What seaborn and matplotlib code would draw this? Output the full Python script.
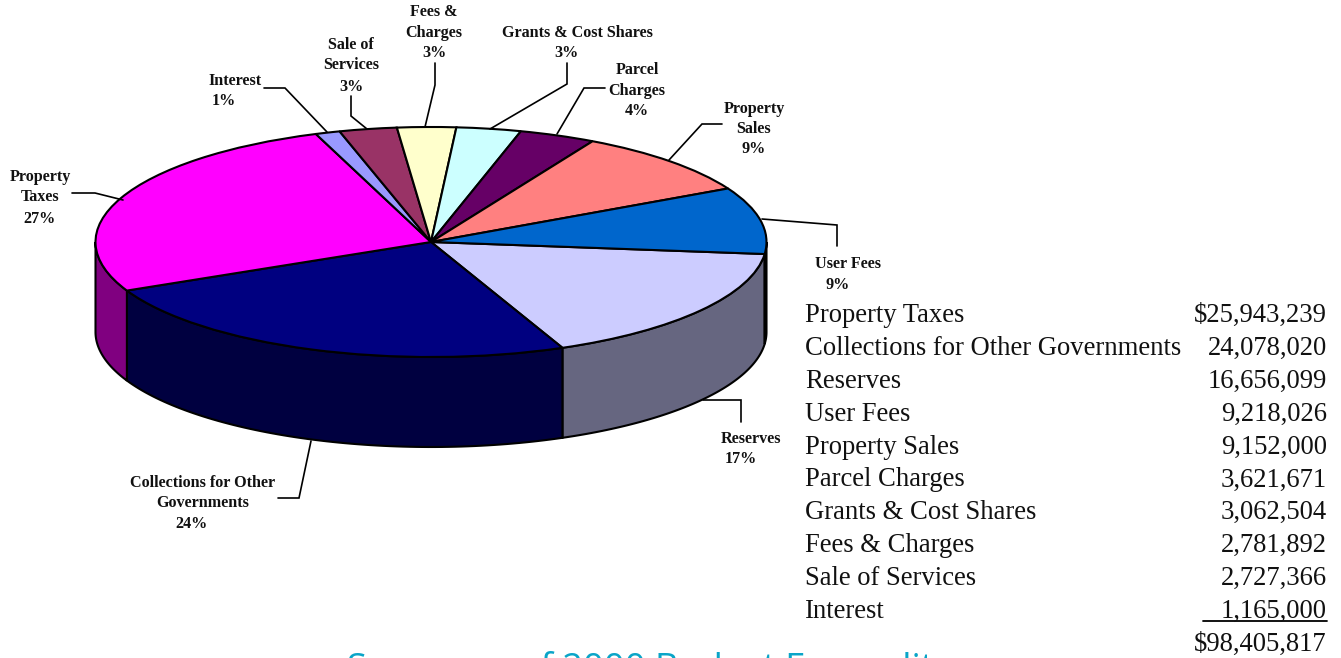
import numpy as np
import matplotlib
matplotlib.use("Agg")
import matplotlib.pyplot as plt
from matplotlib.transforms import Affine2D
import seaborn as sns

# ---- data (clockwise from the Reserves slice, as in the picture)
slice_names = ["Reserves", "Collections for Other Governments", "Property Taxes", "Interest",
               "Sale of Services", "Fees & Charges", "Grants & Cost Shares", "Parcel Charges",
               "Property Sales", "User Fees"]
slice_values = [16656099, 24078020, 25943239, 1165000, 2727366, 2781892, 3062504, 3621671,
                9152000, 9218026]
slice_colors = ["#CCCCFF", "#000080", "#FF00FF", "#9999FF", "#993366", "#FFFFCC", "#CCFFFF",
                "#660066", "#FF8080", "#0066CC"]

table_names = ["Property Taxes", "Collections for Other Governments", "Reserves", "User Fees",
               "Property Sales", "Parcel Charges", "Grants & Cost Shares", "Fees & Charges",
               "Sale of Services", "Interest", ""]
table_amounts = ["$25,943,239", "24,078,020", "16,656,099", "9,218,026", "9,152,000", "3,621,671",
                 "3,062,504", "2,781,892", "2,727,366", "1,165,000", "$98,405,817"]
title_text = "Summary of 2000 Budget Expenditures"

# ---- layout (pixels of the 1341x658 canvas)
W, H = 1341, 658
CX, CY, RX, RY, DEPTH = 431, 242, 335.5, 115, 90
START_ANGLE = -6.0

callouts = [
    ([("Property", 40, 177), ("Taxes", 40, 197), ("27%", 40, 219)],
     [(72, 193), (95, 193), (123, 200)]),
    ([("Interest", 235, 81), ("1%", 224, 101)],
     [(264, 88), (285, 88), (327, 132)]),
    ([("Sale of", 351, 45), ("Services", 351, 65), ("3%", 351, 87)],
     [(351, 96), (351, 116), (367, 129)]),
    ([("Fees &", 434, 12), ("Charges", 434, 33), ("3%", 434, 53)],
     [(435, 63), (435, 85), (425, 127)]),
    ([("Grants & Cost Shares", 577, 33), ("3%", 566, 53)],
     [(567, 63), (567, 84), (490, 129)]),
    ([("Parcel", 637, 70), ("Charges", 637, 91), ("4%", 637, 111)],
     [(605, 88), (584, 88), (557, 134)]),
    ([("Property", 754, 109), ("Sales", 754, 129), ("9%", 754, 149)],
     [(722, 124), (702, 124), (669, 160)]),
    ([("User Fees", 848, 264), ("9%", 838, 285)],
     [(762, 219), (837, 225), (837, 246)]),
    ([("Reserves", 751, 439), ("17%", 741, 459)],
     [(703, 400), (741, 400), (741, 422)]),
    ([("Collections for Other", 203, 483), ("Governments", 203, 503), ("24%", 192, 524)],
     [(278, 498), (299, 498), (311, 441)]),
]

sns.set_theme(style="white")
plt.rcParams["font.family"] = ["Liberation Serif", "DejaVu Serif"]

fig = plt.figure(figsize=(W / 100, H / 100), dpi=100, facecolor="white")
ax = fig.add_axes([0, 0, 1, 1])

palette = sns.color_palette(slice_colors)
side_colors = [tuple(0.5 * c for c in col) for col in palette]
LW = 1.5

wedges, _ = ax.pie(slice_values, colors=palette, startangle=START_ANGLE, counterclock=False,
                   radius=1, normalize=True,
                   wedgeprops=dict(edgecolor="black", linewidth=LW, zorder=3))
ax.set_aspect("auto")
ax.set_xlim(-CX / RX, (W - CX) / RX)
ax.set_ylim((CY - H) / RY, CY / RY)
ax.axis("off")

# side wall of every slice facing the viewer, derived from the pie's own wedge angles
drop = DEPTH / RY
for wedge, side in zip(wedges, side_colors):
    for shift in (0, -360):
        a = max(min(wedge.theta1, wedge.theta2), -180 + shift)
        b = min(max(wedge.theta1, wedge.theta2), shift)
        if b <= a:
            continue
        t = np.radians(np.linspace(a, b, 80))
        xs = np.r_[np.cos(t), np.cos(t)[::-1]]
        ys = np.r_[np.sin(t) - drop, np.sin(t)[::-1]]
        ax.fill(xs, ys, facecolor=side, edgecolor="black", linewidth=LW, zorder=2)

px = Affine2D().scale(1 / W, -1 / H).translate(0, 1) + fig.transFigure

for lines, leader in callouts:
    for s, x, y in lines:
        ax.text(x, y, s, transform=px, ha="center", va="center", fontsize=11.6,
                fontweight="bold", color="#111111", clip_on=False)
    lx, ly = zip(*leader)
    ax.plot(lx, ly, transform=px, color="black", lw=1.2, clip_on=False, zorder=4,
            solid_joinstyle="miter")

# amounts table
row_y = np.linspace(322, 651, len(table_names))
for name, amount, y in zip(table_names, table_amounts, row_y):
    ax.text(805, y, name, transform=px, ha="left", va="baseline", fontsize=19.2, color="#111111")
    ax.text(1327, y, amount, transform=px, ha="right", va="baseline", fontsize=19.2, color="#111111")
ax.plot([1203, 1327], [621, 621], transform=px, color="black", lw=1.3, clip_on=False)

# title, cut off by the lower edge of the canvas as in the reference
ax.text(347, 679, title_text, transform=px, ha="left", va="baseline", fontsize=26.1,
        color="#0AA5C8", family="Open Sans", clip_on=False)

fig.savefig("out.png", dpi=100, facecolor="white")
